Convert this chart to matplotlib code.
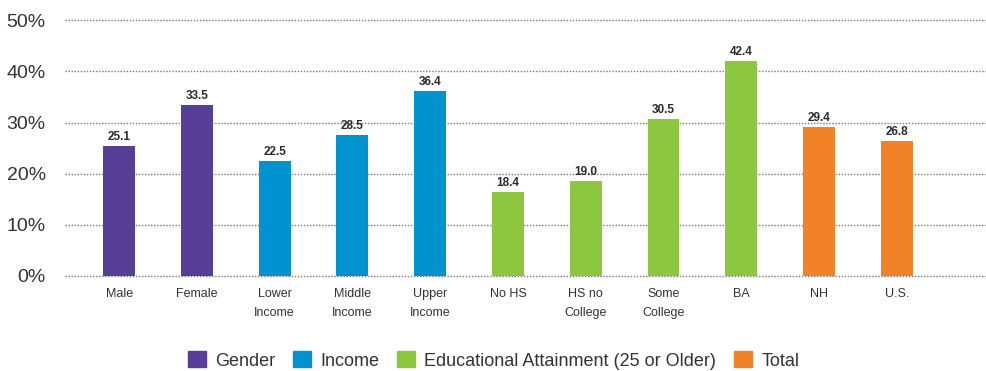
import matplotlib
matplotlib.use("Agg")
import matplotlib.pyplot as plt
from matplotlib.patches import Patch

# categories and values
CATS = ["Male", "Female", "Lower\nIncome", "Middle\nIncome", "Upper\nIncome",
        "No HS", "HS no\nCollege", "Some\nCollege", "BA", "NH", "U.S."]
# bar heights as drawn (they don't quite match the printed labels)
BARS = [25.4, 33.4, 22.5, 27.5, 36.2, 16.4, 18.5, 30.7, 42.0, 29.1, 26.4]
LABELS = ["25.1", "33.5", "22.5", "28.5", "36.4", "18.4", "19.0", "30.5",
          "42.4", "29.4", "26.8"]
GROUP = [0, 0, 1, 1, 1, 2, 2, 2, 2, 3, 3]
GROUP_NAMES = ["Gender", "Income", "Educational Attainment (25 or Older)", "Total"]
COLORS = ["#573E97", "#0093D0", "#8DC63F", "#F28227"]
YTICKS = [0, 10, 20, 30, 40, 50]

plt.rcParams['font.family'] = ['Liberation Sans Narrow', 'Liberation Sans', 'DejaVu Sans']

fig = plt.figure(figsize=(9.87, 3.71), dpi=100)
ax = fig.add_axes([0.066, 0.257, 0.934, 0.688])

xs = list(range(len(CATS)))
ax.bar(xs, BARS, width=0.41, color=[COLORS[g] for g in GROUP], zorder=3)

for x, h, lab in zip(xs, BARS, LABELS):
    ax.text(x, h + 0.6, lab, ha='center', va='bottom', fontsize=8.5,
            fontweight='bold', color='#2b2b2b', family=['Liberation Sans', 'DejaVu Sans'])

ax.set_xlim(-0.694, 11.16)
ax.set_ylim(0, 50)
ax.set_yticks(YTICKS)
ax.set_yticklabels([f"{t}%" for t in YTICKS], fontsize=14, color='#333333',
                   family=['Liberation Sans', 'DejaVu Sans'])
ax.set_xticks(xs)
ax.set_xticklabels(CATS, fontsize=9, color='#333333', linespacing=1.75, va='top')
ax.tick_params(axis='both', length=0)
ax.tick_params(axis='x', pad=9)
ax.tick_params(axis='y', pad=14)
ax.grid(axis='y', linestyle=(0, (1, 1.2)), color='#777777', linewidth=1.0, zorder=0)
for gl in ax.get_ygridlines():
    gl.set_clip_on(False)
for s in ax.spines.values():
    s.set_visible(False)

handles = [Patch(color=c, label=n) for c, n in zip(COLORS, GROUP_NAMES)]
fig.legend(handles=handles, loc='lower center', bbox_to_anchor=(0.5, -0.04), ncol=4,
           frameon=False, fontsize=13, handlelength=1.0, handleheight=1.0,
           handletextpad=0.5, columnspacing=1.0, labelcolor='#333333')

fig.savefig("out.png", dpi=100)
